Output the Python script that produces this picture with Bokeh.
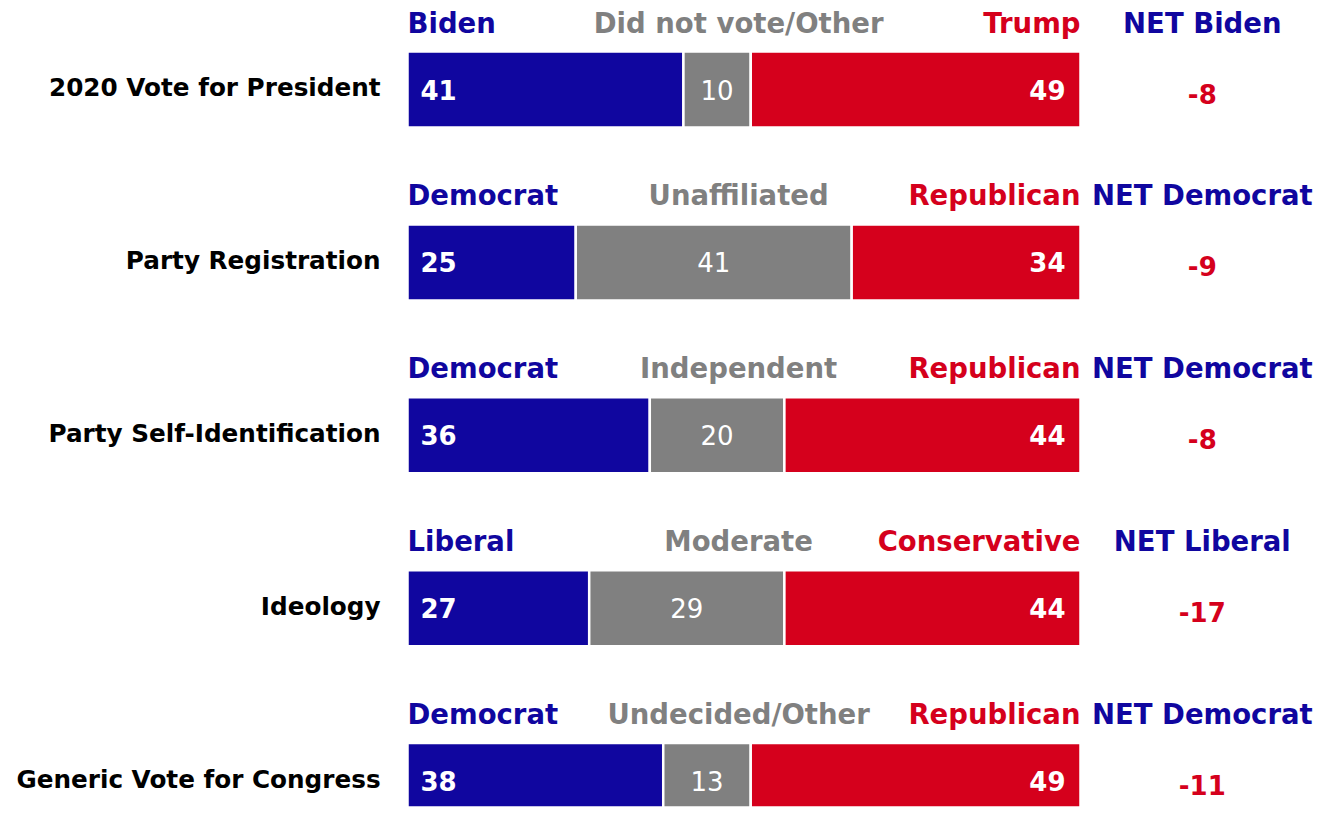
from bokeh.plotting import figure
from bokeh.models import ColumnDataSource
from bokeh.core.properties import value
from bokeh.transform import dodge
from bokeh.embed import file_html
from bokeh.resources import INLINE

rows = ["2020 Vote for President", "Party Registration", "Party Self-Identification",
        "Ideology", "Generic Vote for Congress"]
left_labels = ["Biden", "Democrat", "Democrat", "Liberal", "Democrat"]
mid_labels = ["Did not vote/Other", "Unaffiliated", "Independent", "Moderate", "Undecided/Other"]
right_labels = ["Trump", "Republican", "Republican", "Conservative", "Republican"]
net_labels = ["NET Biden", "NET Democrat", "NET Democrat", "NET Liberal", "NET Democrat"]
left_vals = [41, 25, 36, 27, 38]
mid_vals = [10, 41, 20, 29, 13]
right_vals = [49, 34, 44, 44, 49]
net_vals = [-8, -9, -8, -17, -11]

BLUE = "#10069F"
GRAY = "#808080"
RED = "#D5001C"
FONT = "DejaVu Sans"

W, H = 1327, 807
scale = 6.73            # px per percentage point
x0_px = 407             # bar start in figure px
xs = -x0_px / scale
xe = xs + W / scale
row_px = 172.9
top_px = 89.0
ys_end = top_px / row_px
ys_start = ys_end - H / row_px

p = figure(width=W, height=H, output_backend="svg", toolbar_location=None,
           x_range=(xs, xe), y_range=(ys_start, ys_end),
           min_border=0, min_border_left=0, min_border_right=0,
           min_border_top=0, min_border_bottom=0)
p.axis.visible = False
p.grid.visible = False
p.outline_line_color = None
p.background_fill_color = "white"
p.border_fill_color = "white"

n = len(rows)
yy = [-i for i in range(n)]
l_end = left_vals
m_end = [a + b for a, b in zip(left_vals, mid_vals)]
r_end = [a + b + c for a, b, c in zip(left_vals, mid_vals, right_vals)]

src = ColumnDataSource(dict(
    y=yy, row=rows, ll=left_labels, ml=mid_labels, rl=right_labels, nl=net_labels,
    lv=[str(v) for v in left_vals], mv=[str(v) for v in mid_vals],
    rv=[str(v) for v in right_vals], nv=[str(v) for v in net_vals],
    l0=[0] * n, l1=l_end, m0=l_end, m1=m_end, r0=m_end, r1=r_end,
    mc=[(a + b) / 2 for a, b in zip(l_end, m_end)],
))

bh = 76 / row_px
for lo, hi, col in (("l0", "l1", BLUE), ("m0", "m1", GRAY), ("r0", "r1", RED)):
    p.hbar(y="y", left=lo, right=hi, height=bh, source=src, fill_color=col,
           line_color="white", line_width=2.5)

hdr = 67 / row_px
fs_h = "27.5px"
common = dict(source=src, text_font=value(FONT), text_baseline="middle")
p.text(x=0, y=dodge("y", hdr, range=p.y_range), text="ll", text_color=BLUE,
       text_font_style="bold", text_font_size=fs_h, text_align="left", **common)
p.text(x=49.2, y=dodge("y", hdr, range=p.y_range), text="ml", text_color=GRAY,
       text_font_style="bold", text_font_size=fs_h, text_align="center", **common)
p.text(x="r1", y=dodge("y", hdr, range=p.y_range), text="rl", text_color=RED,
       text_font_style="bold", text_font_size=fs_h, text_align="right", **common)
p.text(x=118.1, y=dodge("y", hdr, range=p.y_range), text="nl", text_color=BLUE,
       text_font_style="bold", text_font_size=fs_h, text_align="center", **common)

# row labels
p.text(x=-4.0, y=dodge("y", 2 / row_px, range=p.y_range), text="row", text_color="black",
       text_font_style="bold", text_font_size="24.7px", text_align="right", **common)

# values
p.text(x=dodge("l0", 13 / scale, range=p.x_range), y="y", text="lv", text_color="white",
       text_font_style="bold", text_font_size="26px", text_align="left", **common)
p.text(x="mc", y="y", text="mv", text_color="white",
       text_font_style="normal", text_font_size="26px", text_align="center", **common)
p.text(x=dodge("r1", -15 / scale, range=p.x_range), y="y", text="rv", text_color="white",
       text_font_style="bold", text_font_size="26px", text_align="right", **common)
p.text(x=118.1, y=dodge("y", -4 / row_px, range=p.y_range), text="nv", text_color=RED,
       text_font_style="bold", text_font_size="26px", text_align="center", **common)

open("out.html", "w").write(file_html(p, INLINE))
